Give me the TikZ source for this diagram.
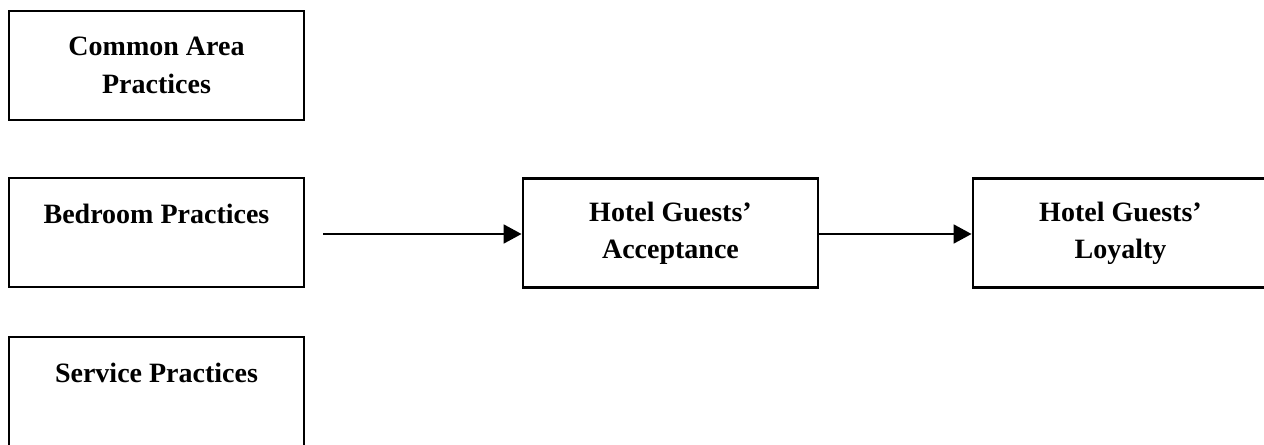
\documentclass[tikz,border=0pt]{standalone}
\usepackage{fontspec}
\setmainfont{Liberation Serif}
\usetikzlibrary{arrows.meta}
\begin{document}
\begin{tikzpicture}[x=0.75pt,y=-0.75pt,
  box/.style={draw=black,line width=2.1pt,minimum width=221.25pt,minimum height=81.75pt,
    align=center,inner sep=0pt,font=\fontsize{21}{28}\selectfont\bfseries},
  conn/.style={line width=2.1pt,-{Triangle[length=13.5pt,width=14pt]}}]
\useasboundingbox (0,0) rectangle (1264,445);
\node[box] (common) at (156.5,65.5) {Common Area\\Practices};
\node[box] (bedroom) at (156.5,232.5) {Bedroom Practices\\\mbox{}};
\node[box] (service) at (156.5,391.5) {Service Practices\\\mbox{}};
\node[box] (accept) at (670.5,233) {Hotel Guests’\\Acceptance};
\node[box] (loyal) at (1120.5,233) {Hotel Guests’\\Loyalty};
\coordinate (start) at (323,234);
\draw[conn] (start) -- (start -| accept.west);
\draw[conn] (accept.east |- start) -- (loyal.west |- start);
\end{tikzpicture}
\end{document}
